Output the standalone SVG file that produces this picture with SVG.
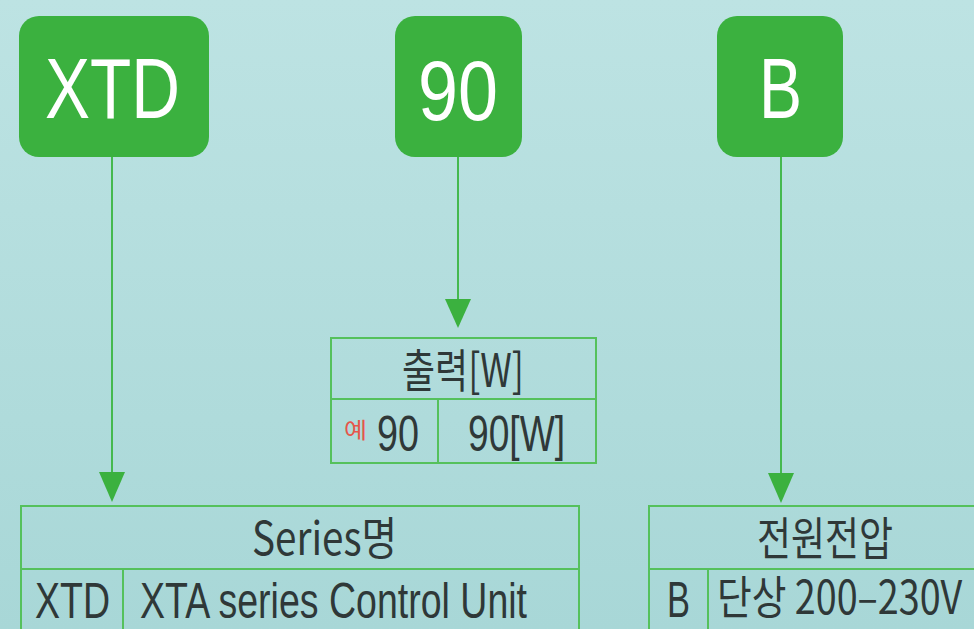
<svg xmlns="http://www.w3.org/2000/svg" width="974" height="629" viewBox="0 0 974 629">
  <defs>
    <linearGradient id="bg" x1="0" y1="0" x2="0" y2="1">
      <stop offset="0" stop-color="#bde3e3"/>
      <stop offset="1" stop-color="#a8d7d7"/>
    </linearGradient>
    <style>
      .box { fill: #3bb13f; }
      .boxtxt { fill: #ffffff; font-family: "Liberation Sans", "Noto Sans CJK KR", sans-serif; font-size: 85px; }
      .wire { stroke: #45b94f; stroke-width: 2; fill: none; }
      .head { fill: #3bb13f; }
      .tbl { fill: none; stroke: #55c15c; stroke-width: 2; }
      .txt { fill: #2f3838; font-family: "Liberation Sans", "Noto Sans CJK KR", sans-serif; font-size: 50px; }
      .ko { fill: #2f3838; font-family: "Noto Sans CJK KR", "Liberation Sans", sans-serif; font-size: 46px; }
      .ex { fill: #e5564a; font-family: "Noto Sans CJK KR", sans-serif; font-size: 22px; }
    </style>
  </defs>
  <rect x="0" y="0" width="974" height="629" fill="url(#bg)"/>

  <g id="connectors">
    <line class="wire" x1="112" y1="157" x2="112" y2="480"/>
    <polygon class="head" points="99,472 125,472 112,502"/>
    <line class="wire" x1="458" y1="157" x2="458" y2="305"/>
    <polygon class="head" points="445,299 471,299 458,328"/>
    <line class="wire" x1="781" y1="157" x2="781" y2="480"/>
    <polygon class="head" points="768,473 794,473 781,503"/>
  </g>

  <g id="node-xtd">
    <rect class="box" x="19" y="16" width="190" height="141" rx="20"/>
    <text class="boxtxt" x="45" y="118" textLength="135" lengthAdjust="spacingAndGlyphs">XTD</text>
  </g>
  <g id="node-90">
    <rect class="box" x="395" y="16" width="127" height="141" rx="20"/>
    <text class="boxtxt" x="418" y="120" textLength="80" lengthAdjust="spacingAndGlyphs">90</text>
  </g>
  <g id="node-b">
    <rect class="box" x="717" y="16" width="126" height="141" rx="20"/>
    <text class="boxtxt" x="759" y="118" textLength="43" lengthAdjust="spacingAndGlyphs">B</text>
  </g>

  <g id="table-output">
    <rect class="tbl" x="331" y="338" width="265" height="125"/>
    <line class="tbl" x1="331" y1="399" x2="596" y2="399"/>
    <line class="tbl" x1="438" y1="399" x2="438" y2="463"/>
    <text class="ko" x="402" y="387" textLength="122" lengthAdjust="spacingAndGlyphs">출력[W]</text>
    <text class="ex" x="344" y="438" textLength="23" lengthAdjust="spacingAndGlyphs">예</text>
    <text class="txt" x="377" y="451" textLength="42" lengthAdjust="spacingAndGlyphs">90</text>
    <text class="txt" x="468" y="451" textLength="97" lengthAdjust="spacingAndGlyphs">90[W]</text>
  </g>

  <g id="table-series">
    <rect class="tbl" x="21" y="506" width="558" height="140"/>
    <line class="tbl" x1="21" y1="569" x2="579" y2="569"/>
    <line class="tbl" x1="123" y1="569" x2="123" y2="629"/>
    <text class="ko" x="252" y="555" textLength="145" lengthAdjust="spacingAndGlyphs">Series명</text>
    <text class="txt" x="35" y="618" textLength="75" lengthAdjust="spacingAndGlyphs">XTD</text>
    <text class="txt" x="140" y="618" textLength="387" lengthAdjust="spacingAndGlyphs">XTA series Control Unit</text>
  </g>

  <g id="table-voltage">
    <rect class="tbl" x="649" y="506" width="340" height="140"/>
    <line class="tbl" x1="649" y1="569" x2="974" y2="569"/>
    <line class="tbl" x1="708" y1="569" x2="708" y2="629"/>
    <text class="ko" x="757" y="555" textLength="136" lengthAdjust="spacingAndGlyphs">전원전압</text>
    <text class="txt" x="667" y="617" textLength="23" lengthAdjust="spacingAndGlyphs">B</text>
    <text class="ko" transform="translate(717,614) scale(0.82,1)" x="0" y="0" font-size="43">단상 200–230V</text>
  </g>
</svg>
